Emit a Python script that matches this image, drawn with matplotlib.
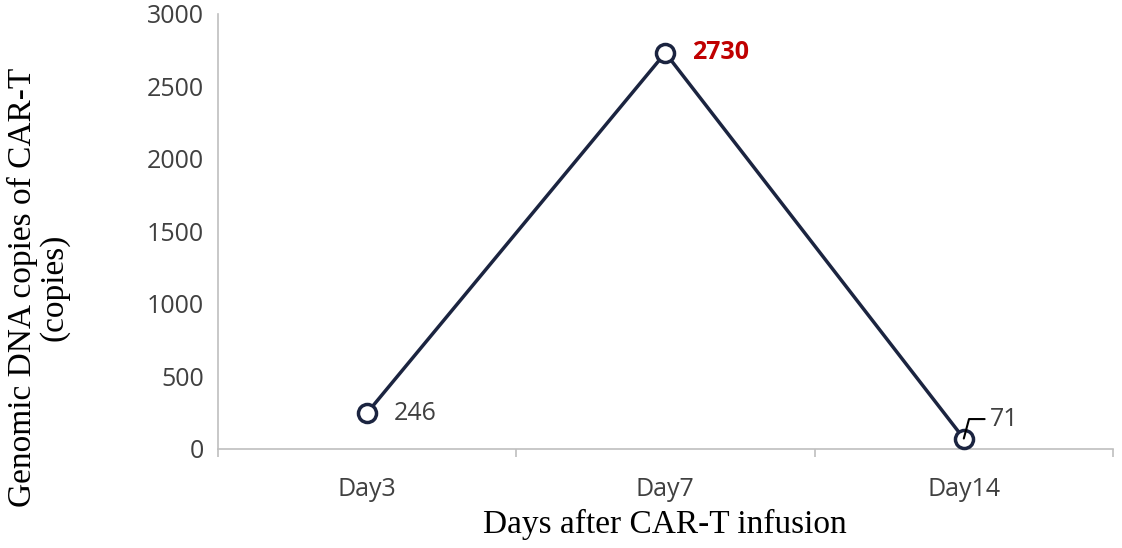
import matplotlib
matplotlib.use("Agg")
import matplotlib.pyplot as plt

days = ["Day3", "Day7", "Day14"]
copies = [246, 2730, 71]
y_ticks = [0, 500, 1000, 1500, 2000, 2500, 3000]

line_color = "#1b2440"
grid_grey = "#bfbfbf"
text_grey = "#404040"
tick_size = 18

fig = plt.figure(figsize=(11.22, 5.48), dpi=100)
ax = fig.add_axes([0.194, 0.181, 0.798, 0.794])

x = list(range(len(days)))
ax.plot(x, copies, color=line_color, lw=2.5, marker="o", ms=13,
        mfc="white", mec=line_color, mew=2.5, zorder=3, clip_on=False)

ax.set_xlim(-0.5, len(days) - 0.5)
ax.set_ylim(0, 3000)
ax.set_yticks(y_ticks)
ax.set_xticks(x)
ax.set_xticklabels(days)
ax.set_xticks([i - 0.5 for i in range(len(days) + 1)], minor=True)

for s in ["top", "right"]:
    ax.spines[s].set_visible(False)
for s in ["left", "bottom"]:
    ax.spines[s].set_color(grid_grey)
    ax.spines[s].set_linewidth(1.2)

ax.tick_params(axis="y", length=0, pad=10, labelsize=tick_size,
               labelcolor=text_grey, labelfontfamily="Open Sans")
ax.tick_params(axis="x", which="major", length=0, pad=20, labelsize=tick_size,
               labelcolor=text_grey, labelfontfamily="Open Sans")
ax.tick_params(axis="x", which="minor", direction="out", length=6,
               color=grid_grey, width=1.2)

ax.set_xlabel("Days after CAR-T infusion", fontfamily="Liberation Serif",
              fontsize=24, labelpad=5)
ax.set_ylabel("Genomic DNA copies of CAR-T\n(copies)",
              fontfamily="Liberation Serif", fontsize=24, linespacing=1.0)
ax.yaxis.set_label_coords(-0.166, 0.372)

ax.annotate(str(copies[0]), xy=(0, copies[0]), xytext=(19, 0),
            textcoords="offset points", va="center", ha="left",
            fontsize=tick_size, color=text_grey, fontfamily="Open Sans")
ax.annotate(str(copies[1]), xy=(1, copies[1]), xytext=(19, 0),
            textcoords="offset points", va="center", ha="left",
            fontsize=tick_size, color="#c00000", fontweight="bold",
            fontfamily="Open Sans")
ax.annotate(str(copies[2]), xy=(2, copies[2]), xytext=(19, 14),
            textcoords="offset points", va="center", ha="left",
            fontsize=tick_size, color=text_grey, fontfamily="Open Sans",
            arrowprops=dict(arrowstyle="-", color="#000000", lw=1.5,
                            connectionstyle="angle,angleA=0,angleB=75,rad=0",
                            shrinkA=2, shrinkB=0))

fig.savefig("out.png", dpi=100)
